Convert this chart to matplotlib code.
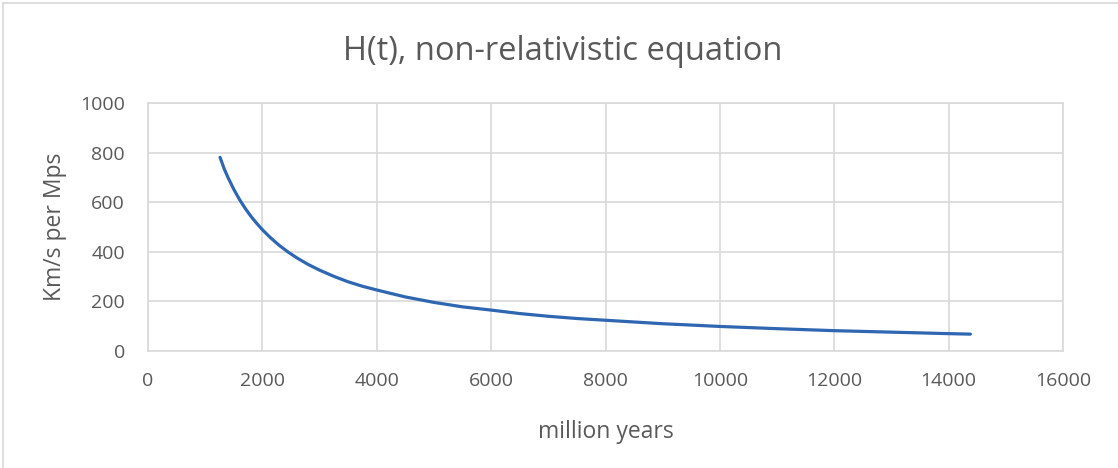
import matplotlib
matplotlib.use("Agg")
import matplotlib.pyplot as plt
from matplotlib.lines import Line2D

# Data (million years, km/s per Mpc)
time_myr = [1260, 1330, 1400, 1500, 1600, 1700, 1800, 1900, 2000, 2150, 2300, 2450, 2600,
            2800, 3000, 3250, 3500, 3750, 4000, 4500, 5000, 5500, 6000, 6500, 7000,
            7500, 8000, 9000, 10000, 11000, 12000, 13000, 14000, 14380]
hubble = [781, 736, 699, 652, 611, 575, 543, 515, 489, 455, 425, 399, 376,
          349, 326, 301, 279, 261, 246, 218, 196, 178, 165, 151, 140,
          131, 124, 110, 99, 90, 82, 76, 70, 68]

title = "H(t), non-relativistic equation"
xlabel = "million years"
ylabel = "Km/s per Mps"
xticks = [0, 2000, 4000, 6000, 8000, 10000, 12000, 14000, 16000]
yticks = [0, 200, 400, 600, 800, 1000]

plt.rcParams['font.family'] = ['Open Sans', 'DejaVu Sans']
text_color = "#595959"
grid_color = "#d9d9d9"

fig = plt.figure(figsize=(11.18, 4.68), dpi=100)
ax = fig.add_axes([148/1118, 1-351/468, (1063-148)/1118, (351-103)/468])

ax.plot(time_myr, hubble, color="#2e66b1", linewidth=2.3, solid_capstyle='round')

ax.set_xlim(0, 16000)
ax.set_ylim(0, 1000)
ax.set_xticks(xticks)
ax.set_yticks(yticks)
ax.tick_params(axis='both', length=0, labelsize=14, colors=text_color)
ax.tick_params(axis='x', pad=15)
ax.tick_params(axis='y', pad=16.5)
ax.grid(True, color=grid_color, linewidth=1.2)
ax.set_axisbelow(True)
for s in ax.spines.values():
    s.set_color(grid_color)
    s.set_linewidth(1.2)

ax.set_xlabel(xlabel, fontsize=16.5, color=text_color, va='center')
ax.xaxis.set_label_coords(0.5, -(432-351)/248)
ax.set_ylabel(ylabel, fontsize=16.5, color=text_color, va='center')
ax.yaxis.set_label_coords((55-148)/915, 0.5)
fig.text(563/1118, 1-51/468, title, fontsize=23.5, color=text_color, ha='center', va='center')

# chart frame (left and top edges visible)
fig.add_artist(Line2D([3/1118, 3/1118], [0, 1-3/468], transform=fig.transFigure, color=grid_color, lw=1.2))
fig.add_artist(Line2D([3/1118, 1], [1-3/468, 1-3/468], transform=fig.transFigure, color=grid_color, lw=1.2))

fig.savefig("out.png", dpi=100, facecolor="white")
